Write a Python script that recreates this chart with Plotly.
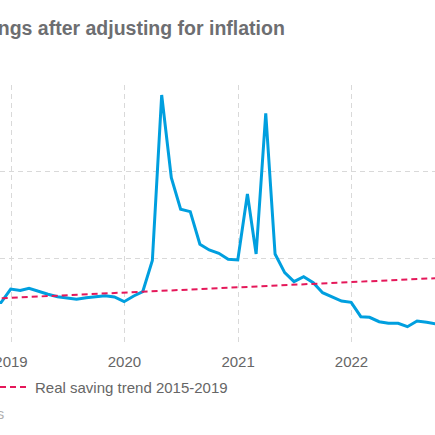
import plotly.graph_objects as go
import pandas as pd

# Monthly real personal saving (billions, annualised), month-end dates
months = pd.date_range("2018-10-31", "2022-09-30", freq="ME").strftime("%Y-%m-%d").tolist()
real_saving = [
    1000, 980, 1292,                                               # Oct-Dec 2018
    1258, 1309, 1230, 1170, 1115, 1085, 1055, 1092, 1115, 1138, 1108, 1000,   # 2019
    1131, 1230, 1950, 5770, 3861, 3132, 3077, 2324, 2193, 2117, 1978, 1962,   # 2020
    3485, 2100, 5348, 2100, 1669, 1461, 1576, 1438, 1207, 1115, 1015, 985,    # 2021
    653, 639, 538, 501, 501, 422, 554, 524, 485,                              # 2022 Jan-Sep
]

trend_dates = ["2018-10-31", "2022-09-30"]
trend_values = [1069, 1542]

title_text = "Personal savings after adjusting for inflation"
legend_trend = "Real saving trend 2015-2019"
source_text = "Source: Bureau of Economic Analysis"

W, H = 435, 435
L, R, T, B = 0, 0, 85, 90
pw, ph = W - L - R, H - T - B

def px(x):
    return (x - L) / pw

def py(y):
    return (H - B - y) / ph

fig = go.Figure()
fig.add_trace(go.Scatter(
    x=months, y=real_saving, mode="lines", name="Real saving",
    line=dict(color="#009fdf", width=3), showlegend=False,
))
fig.add_trace(go.Scatter(
    x=trend_dates, y=trend_values, mode="lines", name=legend_trend,
    line=dict(color="#e5185a", width=2, dash="6px,4px"), showlegend=False,
))

font_family = "Liberation Sans, Arial, sans-serif"

fig.update_layout(
    width=W, height=H,
    margin=dict(l=L, r=R, t=T, b=B, autoexpand=False),
    paper_bgcolor="white", plot_bgcolor="white",
    font=dict(family=font_family, color="#666666", size=15),
    xaxis=dict(
        type="date",
        range=["2018-11-26 14:00", "2022-09-26 19:00"],
        dtick="M12", tick0="2019-01-01", tickformat="%Y",
        showgrid=True, gridcolor="#d9d9d9", gridwidth=1, griddash="5px,4px",
        zeroline=False, showline=False, ticks="",
        ticklabeloverflow="allow", ticklabelstandoff=6,
        tickfont=dict(size=15, color="#666666"),
        automargin=False,
    ),
    yaxis=dict(
        range=[0, 6000], dtick=2000,
        showgrid=True, gridcolor="#d9d9d9", gridwidth=1, griddash="5px,4px",
        zeroline=False, showline=False, ticks="", showticklabels=False,
        automargin=False,
    ),
    shapes=[
        dict(type="line", xref="paper", yref="paper",
             x0=px(0), x1=px(28), y0=py(387), y1=py(387),
             line=dict(color="#e5185a", width=2, dash="6px,4px")),
    ],
    annotations=[
        dict(text="<b>" + title_text + "</b>", xref="paper", yref="paper",
             x=px(287), y=py(28), xanchor="right", yanchor="middle",
             showarrow=False, font=dict(size=19.5, color="#6d6e71", family=font_family)),
        dict(text=legend_trend, xref="paper", yref="paper",
             x=px(33), y=py(387), xanchor="left", yanchor="middle",
             showarrow=False, font=dict(size=15, color="#666666", family=font_family)),
        dict(text=source_text, xref="paper", yref="paper",
             x=px(5.5), y=py(413), xanchor="right", yanchor="middle",
             showarrow=False, font=dict(size=15, color="#b0b0b0", family=font_family)),
    ],
)

fig.write_html(
    "out.html",
    config={"displayModeBar": False},
    post_script="document.body.style.margin='0px';document.body.style.overflow='hidden';",
)
